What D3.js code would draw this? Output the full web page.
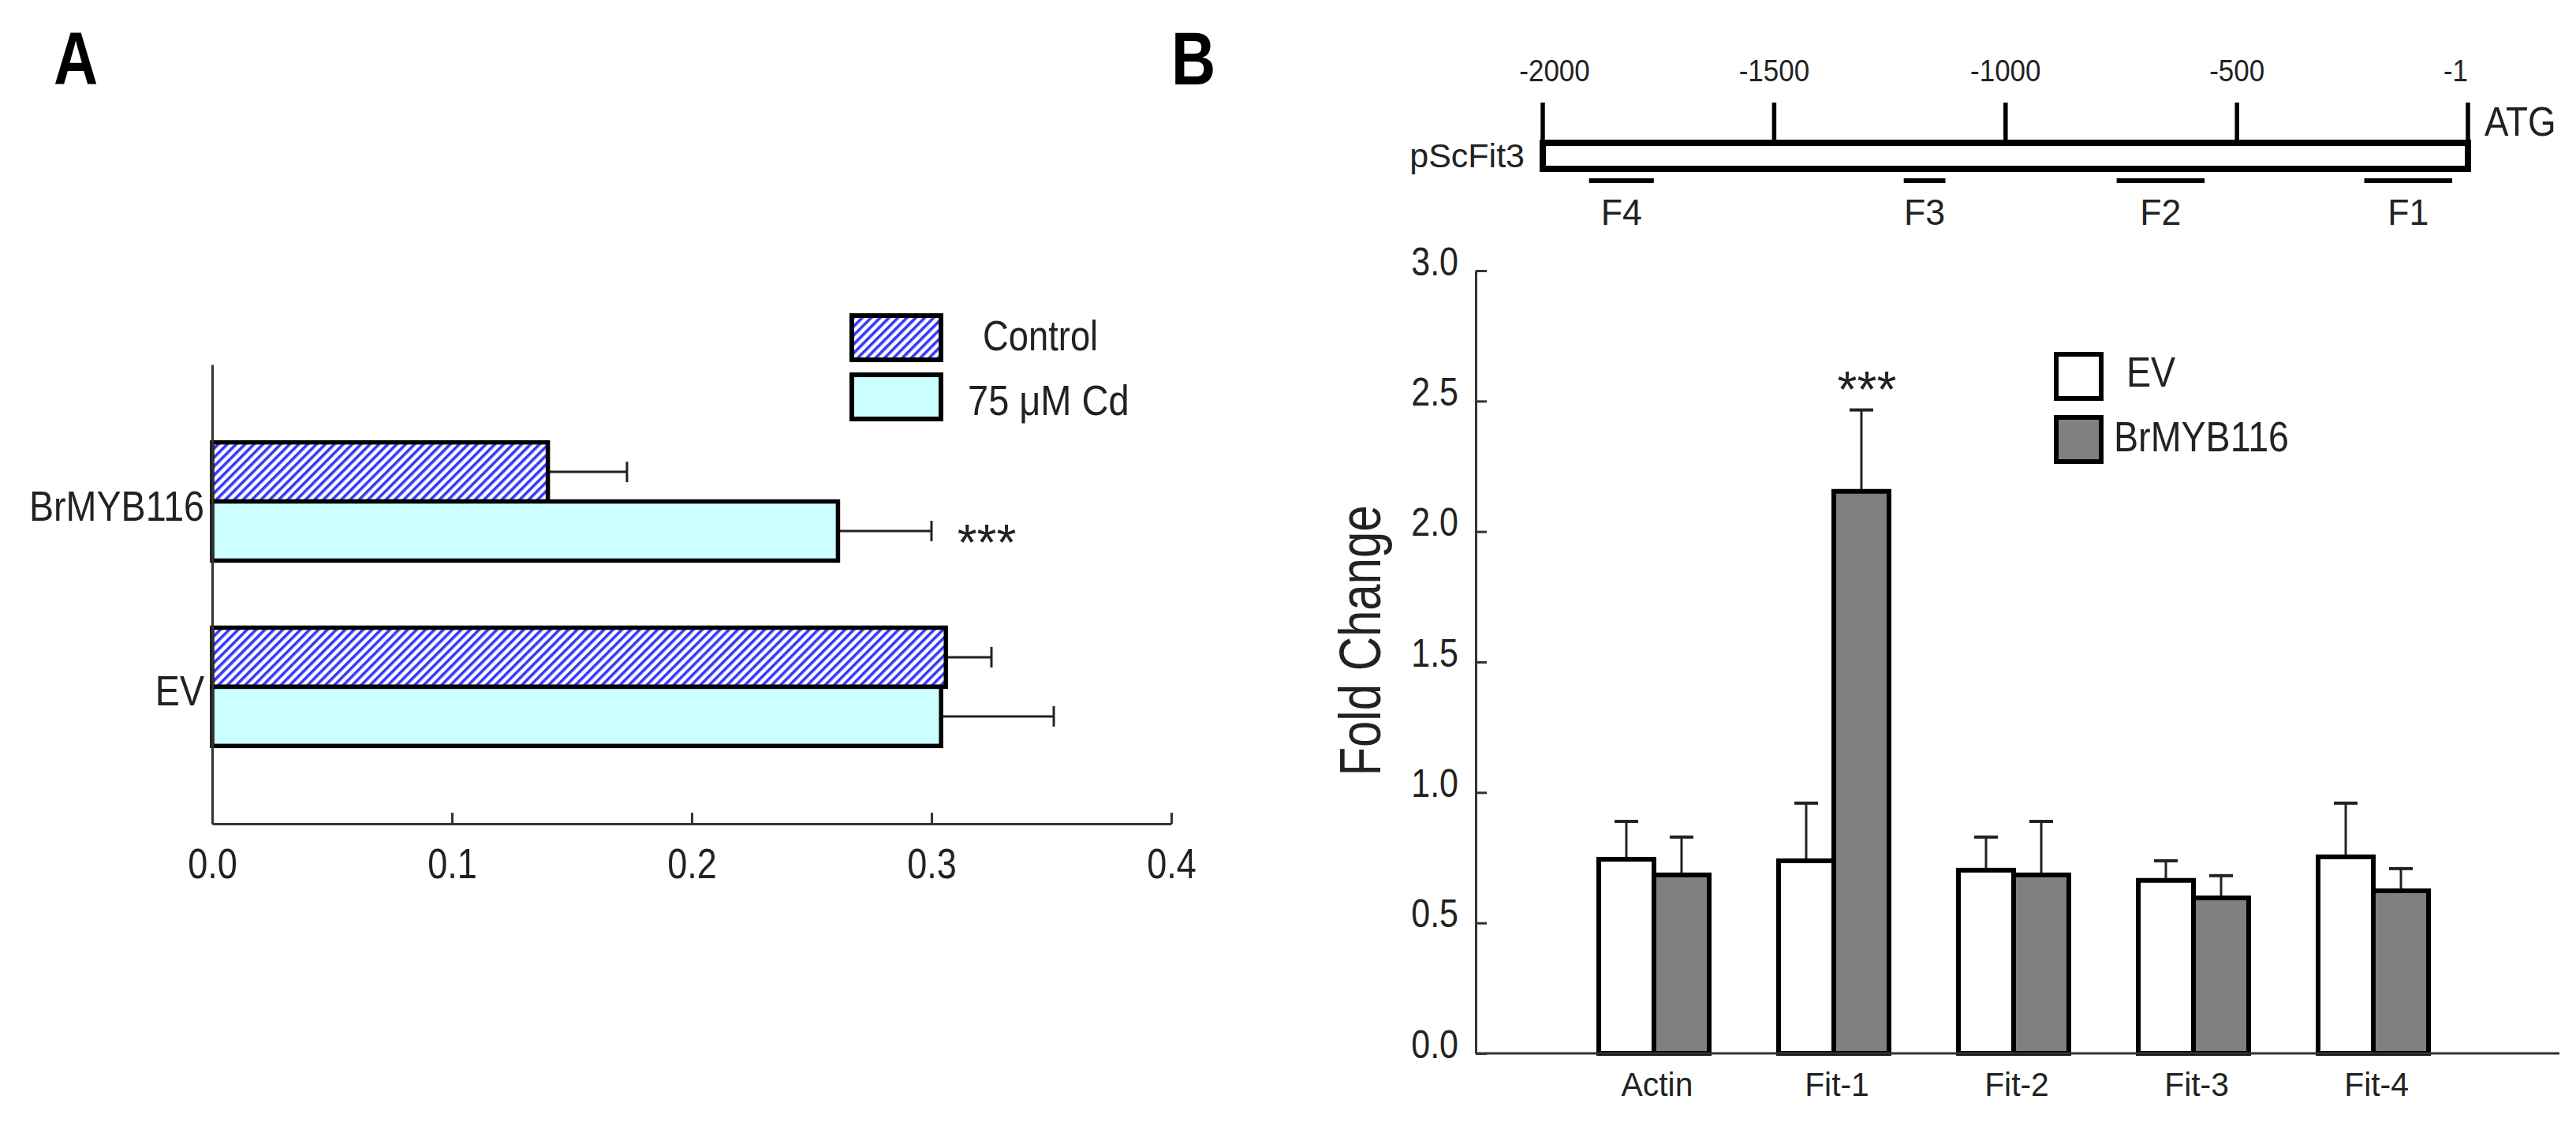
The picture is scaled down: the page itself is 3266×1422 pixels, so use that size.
<!DOCTYPE html>
<html>
<head>
<meta charset="utf-8">
<script src="https://cdn.jsdelivr.net/npm/d3@7"></script>
<style>
  html, body { margin: 0; padding: 0; background: #fff; }
  svg { display: block; }
  text { font-family: "Liberation Sans", Arial, Helvetica, sans-serif; fill: #222; }
</style>
</head>
<body>
<svg id="chart" width="3266" height="1422"></svg>
<script>
// ---------------- DATA ----------------
// Panel A
const aCategories = ["BrMYB116", "EV"];
const aSeries = ["Control", "75 \u03bcM Cd"];
const aControl = [0.140, 0.306];
const aControlErr = [0.033, 0.019];
const aCd = [0.261, 0.304];
const aCdErr = [0.039, 0.047];
const aTicks = [0.0, 0.1, 0.2, 0.3, 0.4];
const aSignif = ["***", ""];          // on 75 µM Cd bars

// Panel B - promoter diagram
const promoterName = "pScFit3";
const promoterTicks = [-2000, -1500, -1000, -500, -1];
const fragNames = ["F1", "F2", "F3", "F4"];
const fragStart = [-225, -760, -1220, -1900];
const fragEnd = [-35, -570, -1130, -1760];

// Panel B - bar chart
const bCategories = ["Actin", "Fit-1", "Fit-2", "Fit-3", "Fit-4"];
const bSeries = ["EV", "BrMYB116"];
const bEV = [0.744, 0.738, 0.702, 0.663, 0.753];
const bEVErr = [0.145, 0.221, 0.127, 0.075, 0.206];
const bBr = [0.684, 2.154, 0.684, 0.596, 0.623];
const bBrErr = [0.145, 0.312, 0.205, 0.085, 0.085];
const bTicks = [0.0, 0.5, 1.0, 1.5, 2.0, 2.5, 3.0];
const bSignif = ["", "***", "", "", ""];   // on BrMYB116 bars
const bYLabel = "Fold Change";

// ---------------- DRAW ----------------
const svg = d3.select("#chart");
const INK = "#222";

const defs = svg.append("defs");
const pat = defs.append("pattern")
  .attr("id", "hatch").attr("patternUnits", "userSpaceOnUse")
  .attr("width", 8).attr("height", 8)
  .attr("patternTransform", "rotate(45)");
pat.append("rect").attr("width", 8).attr("height", 8).attr("fill", "#ffffff");
pat.append("rect").attr("width", 3.6).attr("height", 8).attr("fill", "#3636ff");

function label(g, x, y, str, o) {
  o = o || {};
  const t = `translate(${x},${y})` + (o.rotate ? ` rotate(${o.rotate})` : "") + ` scale(${o.sx || 1},1)`;
  return g.append("text")
    .attr("transform", t)
    .attr("text-anchor", o.anchor || "start")
    .attr("font-size", o.size || 40)
    .attr("font-weight", o.weight || "normal")
    .text(str);
}

// panel letters
label(svg, 96, 107, "A", { size: 95, weight: "bold", anchor: "middle", sx: 0.82 }).style("fill", "#000");
label(svg, 1513, 107, "B", { size: 95, weight: "bold", anchor: "middle", sx: 0.82 }).style("fill", "#000");

// ============ Panel A ============
const gA = svg.append("g");
const xA = d3.scaleLinear().domain([0, 0.4]).range([269, 1485]);
const yA = d3.scaleBand().domain(aCategories).range([462, 1044]).paddingInner(0.362).paddingOuter(0.42);
const sA = d3.scaleBand().domain(aSeries).range([0, yA.bandwidth()]);
const aFill = ["url(#hatch)", "#ccffff"];
const aVals = [aControl, aCd];
const aErrs = [aControlErr, aCdErr];

aSeries.forEach((s, si) => {
  aCategories.forEach((c, ci) => {
    const v = aVals[si][ci], e = aErrs[si][ci];
    const y0 = yA(c) + sA(s), h = sA.bandwidth();
    const yc = y0 + h / 2;
    gA.append("line").attr("x1", xA(v)).attr("x2", xA(v + e)).attr("y1", yc).attr("y2", yc)
      .attr("stroke", INK).attr("stroke-width", 3);
    gA.append("line").attr("x1", xA(v + e)).attr("x2", xA(v + e)).attr("y1", yc - 13).attr("y2", yc + 13)
      .attr("stroke", INK).attr("stroke-width", 3);
    gA.append("rect").attr("x", xA(0)).attr("y", y0).attr("width", xA(v) - xA(0)).attr("height", h)
      .attr("fill", aFill[si]).attr("stroke", "#000").attr("stroke-width", 5.5);
    if (si === 1 && aSignif[ci]) {
      label(gA, xA(v + e) + 70, yc + 37, aSignif[ci], { size: 64, anchor: "middle" });
    }
  });
});

// axes A
const axA = gA.append("g").attr("transform", `translate(0,1044)`)
  .call(d3.axisBottom(xA).tickValues(aTicks).tickSize(-14).tickSizeOuter(0).tickFormat(d3.format(".1f")));
axA.select(".domain").attr("stroke", "#333").attr("stroke-width", 3);
axA.selectAll(".tick line").attr("stroke", "#333").attr("stroke-width", 3);
axA.selectAll(".tick text").attr("y", null).attr("dy", null)
  .attr("transform", "translate(0,69) scale(0.85,1)")
  .attr("font-size", 53).attr("font-family", null).style("fill", INK);

const ayA = gA.append("g").attr("transform", `translate(269,0)`)
  .call(d3.axisLeft(yA).tickSize(0).tickSizeOuter(0));
ayA.select(".domain").attr("stroke", "#333").attr("stroke-width", 3);
ayA.selectAll(".tick text").attr("x", null).attr("dy", null)
  .attr("transform", "translate(-10,24) scale(0.88,1)")
  .attr("font-size", 53).attr("font-family", null).style("fill", INK);

// legend A
const legA = gA.append("g");
const legAy = [400, 475];
aSeries.forEach((s, i) => {
  legA.append("rect").attr("x", 1080).attr("y", legAy[i]).attr("width", 113).attr("height", 56)
    .attr("fill", aFill[i]).attr("stroke", "#000").attr("stroke-width", 6);
});
label(legA, 1246, 444, aSeries[0], { size: 54, sx: 0.84 });
label(legA, 1227, 526, aSeries[1], { size: 54, sx: 0.87 });

// ============ Panel B: promoter ============
const gP = svg.append("g");
const xP = d3.scaleLinear().domain([-2000, -1]).range([1956, 3129]);
gP.append("rect").attr("x", xP(-2000)).attr("y", 181).attr("width", xP(-1) - xP(-2000)).attr("height", 33)
  .attr("fill", "#fff").attr("stroke", "#000").attr("stroke-width", 8);
promoterTicks.forEach((t, i) => {
  gP.append("line").attr("x1", xP(t)).attr("x2", xP(t)).attr("y1", 130).attr("y2", 181)
    .attr("stroke", "#000").attr("stroke-width", 5.5);
  const last = i === promoterTicks.length - 1;
  const dx = i === 0 ? 15 : 0;
  label(gP, xP(t) + dx, 103, String(t), { size: 38, anchor: last ? "end" : "middle", sx: 0.92 });
});
label(gP, 1933, 212, promoterName, { size: 43, anchor: "end", sx: 1 });
label(gP, 3150, 172, "ATG", { size: 52, sx: 0.88 });
fragNames.forEach((f, i) => {
  gP.append("line").attr("x1", xP(fragStart[i])).attr("x2", xP(fragEnd[i])).attr("y1", 229).attr("y2", 229)
    .attr("stroke", "#000").attr("stroke-width", 6);
  label(gP, (xP(fragStart[i]) + xP(fragEnd[i])) / 2, 285, f, { size: 47, anchor: "middle", sx: 0.95 });
});

// ============ Panel B: bar chart ============
const gB = svg.append("g");
const xB = d3.scaleBand().domain(bCategories).range([1871, 3235]).paddingInner(0.386).paddingOuter(0.684);
const sB = d3.scaleBand().domain(bSeries).range([0, xB.bandwidth()]);
const yB = d3.scaleLinear().domain([0, 3]).range([1335, 343]);
const bFill = ["#ffffff", "#808080"];
const bVals = [bEV, bBr];
const bErrs = [bEVErr, bBrErr];

bSeries.forEach((s, si) => {
  bCategories.forEach((c, ci) => {
    const v = bVals[si][ci], e = bErrs[si][ci];
    const x0 = xB(c) + sB(s), w = sB.bandwidth();
    const xc = x0 + w / 2;
    gB.append("line").attr("x1", xc).attr("x2", xc).attr("y1", yB(v)).attr("y2", yB(v + e))
      .attr("stroke", INK).attr("stroke-width", 3);
    gB.append("line").attr("x1", xc - 15).attr("x2", xc + 15).attr("y1", yB(v + e)).attr("y2", yB(v + e))
      .attr("stroke", INK).attr("stroke-width", 4);
    gB.append("rect").attr("x", x0).attr("y", yB(v)).attr("width", w).attr("height", yB(0) - yB(v))
      .attr("fill", bFill[si]).attr("stroke", "#000").attr("stroke-width", 6);
    if (si === 1 && bSignif[ci]) {
      label(gB, xc + 7, yB(v + e) - 4, bSignif[ci], { size: 64, anchor: "middle" });
    }
  });
});

// x axis line B
gB.append("line").attr("x1", 1871).attr("x2", 3245).attr("y1", yB(0)).attr("y2", yB(0))
  .attr("stroke", "#333").attr("stroke-width", 3);
const axB = gB.append("g").attr("transform", `translate(0,${yB(0)})`)
  .call(d3.axisBottom(xB).tickSize(0).tickSizeOuter(0));
axB.select(".domain").remove();
axB.selectAll(".tick text").attr("y", null).attr("dy", null)
  .attr("transform", "translate(4,54) scale(0.95,1)")
  .attr("font-size", 43).attr("font-family", null).style("fill", INK);

const ayB = gB.append("g").attr("transform", `translate(1871,0)`)
  .call(d3.axisLeft(yB).tickValues(bTicks).tickSize(-14).tickSizeOuter(0).tickFormat(d3.format(".1f")));
ayB.select(".domain").attr("stroke", "#333").attr("stroke-width", 3);
ayB.selectAll(".tick line").attr("stroke", "#333").attr("stroke-width", 3);
ayB.selectAll(".tick text").attr("x", null).attr("dy", null)
  .attr("transform", "translate(-22,5) scale(0.86,1)")
  .attr("font-size", 50).attr("font-family", null).style("fill", INK);

label(gB, 1750, 812, bYLabel, { size: 74, anchor: "middle", rotate: -90, sx: 0.81 });

// legend B
const legB = gB.append("g");
const legBy = [449, 529];
bSeries.forEach((s, i) => {
  legB.append("rect").attr("x", 2607).attr("y", legBy[i]).attr("width", 57).attr("height", 56)
    .attr("fill", bFill[i]).attr("stroke", "#000").attr("stroke-width", 6);
});
label(legB, 2696, 490, bSeries[0], { size: 53, sx: 0.88 });
label(legB, 2680, 572, bSeries[1], { size: 53, sx: 0.88 });
</script>
</body>
</html>
